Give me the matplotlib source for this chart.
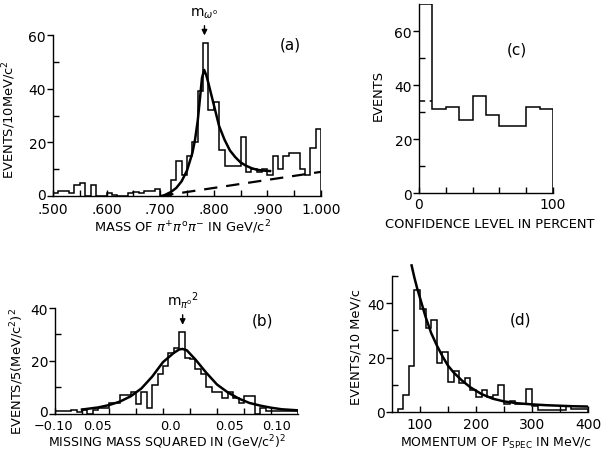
import numpy as np
import matplotlib
matplotlib.use("Agg")
import matplotlib.pyplot as plt
from matplotlib.ticker import FixedLocator
import matplotlib.transforms as mtransforms

plt.rcParams['font.family'] = ['DejaVu Sans']
plt.rcParams['mathtext.fontset'] = 'dejavusans'

# ---------------- data ----------------
# (a) mass of pi+ pi0 pi-, 10 MeV bins from 0.500 to 1.000 GeV
a_edges_start, a_edges_stop, a_bin = 0.500, 1.000, 0.010
a_counts = [1, 2, 2, 1, 4, 5, 0, 4, 0, 0,
            1, 0.5, 0, 0, 1, 1.5, 1, 2, 2, 2.5,
            0, 0, 6, 13, 8, 15, 20, 39, 57, 32,
            35, 17, 11, 11, 11, 22, 9, 10, 9, 10,
            8, 15, 10, 15, 16, 16, 10, 8, 18, 25]
a_fit_x = [0.705, 0.72, 0.73, 0.74, 0.75, 0.76, 0.765, 0.77, 0.775, 0.778,
           0.782, 0.786, 0.79, 0.795, 0.80, 0.81, 0.82, 0.83, 0.84, 0.85,
           0.86, 0.87, 0.88, 0.89, 0.905]
a_fit_y = [0, 1.5, 3, 5.5, 9.5, 16, 21, 28, 38, 44,
           47, 45, 42, 38, 34, 26, 21, 17, 14.5, 12.5,
           11.3, 10.4, 9.8, 9.5, 9.3]
a_bg_x = [0.700, 1.000]
a_bg_y = [0, 9]

# (c) confidence level, 10 % bins
c_edges = [0, 10, 20, 30, 40, 50, 60, 70, 80, 90, 100]
c_counts = [70, 31, 32, 27, 36, 29, 25, 25, 32, 31]
c_flat_x = [0, 10]
c_flat_y = [34, 34]

# (b) missing mass squared, bins of 0.005 (GeV/c^2)^2 from -0.10
b_start, b_bin = -0.100, 0.005
b_counts = [1, 1, 1, 1.5, 0.5, 1.5, 0, 1.5, 2, 2,
            4, 4, 7, 7, 8, 3.5, 8, 2, 11, 15,
            18, 23, 25, 31, 21, 20.5, 17, 15, 10, 8,
            8, 6, 8, 6, 4, 6.5, 6.5, 0, 2, 1,
            1, 1, 1, 1, 1]
b_fit_x = [-0.075, -0.06, -0.05, -0.04, -0.03, -0.02, -0.01, 0.0, 0.01, 0.015,
           0.018, 0.022, 0.03, 0.04, 0.05, 0.06, 0.07, 0.08, 0.09, 0.10,
           0.11, 0.125]
b_fit_y = [1.5, 2.3, 3.2, 4.5, 6.5, 9.5, 14, 19.5, 23, 24.3,
           24.5, 24, 20.5, 15.5, 11, 8, 5.7, 4, 3, 2.2,
           1.6, 1.2]

# (d) spectator momentum, 10 MeV/c bins from 60
d_start, d_bin = 60, 10
d_counts = [1, 6, 17, 45, 38, 31, 34, 18, 22, 11,
            15, 10.5, 12.5, 8, 5.3, 8, 5.5, 6, 10, 3,
            4, 3, 3, 8.5, 2.2, 0.5, 0.5, 0.5, 0.5, 0.5,
            2, 1, 1, 1]
d_fit_x = [85, 90, 95, 100, 110, 120, 130, 140, 150, 160,
           175, 190, 210, 230, 250, 275, 300, 325, 350, 375, 400]
d_fit_y = [54, 49.5, 45.5, 42, 35, 29, 24.5, 20.5, 17, 14.5,
           11.5, 9, 6.5, 4.8, 3.8, 3.1, 2.7, 2.4, 2.2, 2.0, 1.9]

# ---------------- figure ----------------
fig = plt.figure(figsize=(6.02, 4.52), dpi=100)
W, H = 602.0, 452.0

def rect(l, r, b, t):
    return [l / W, 1 - b / H, (r - l) / W, (b - t) / H]

FS = 10
LFS = 9.4
HLW = 1.1
CLW = 1.8

def style(ax, ytop, xpad, xfs=FS):
    for s in ('top', 'right'):
        ax.spines[s].set_visible(False)
    ax.spines['left'].set_bounds(0, ytop)
    ax.spines['left'].set_linewidth(1.0)
    ax.spines['bottom'].set_linewidth(1.0)
    ax.tick_params(axis='y', which='major', direction='out', length=4, width=1,
                   labelsize=FS, pad=1)
    ax.tick_params(axis='y', which='minor', direction='in', length=4, width=1)
    ax.tick_params(axis='x', which='both', direction='in', length=4, width=1,
                   labelsize=xfs, pad=xpad)

def shift_label(lab, dx_px, dy_px):
    lab.set_transform(lab.get_transform() +
                      mtransforms.ScaledTranslation(dx_px / 100.0, dy_px / 100.0,
                                                    fig.dpi_scale_trans))

# (a)
axa = fig.add_axes(rect(53, 321, 197, 3.8))
a_edges = np.round(np.arange(a_edges_start, a_edges_stop + a_bin / 2, a_bin), 3)
axa.stairs(a_counts, a_edges, color='black', lw=HLW, baseline=0)
axa.plot(a_fit_x, a_fit_y, color='black', lw=CLW)
axa.plot(a_bg_x, a_bg_y, color='black', lw=1.6, ls=(0, (6, 4)))
axa.set_xlim(0.5, 1.0)
axa.set_ylim(0, 72)
style(axa, 60, 4)
axa.set_yticks([0, 20, 40, 60])
axa.yaxis.set_minor_locator(FixedLocator([10, 30, 50]))
axa.set_xticks([0.5, 0.6, 0.7, 0.8, 0.9, 1.0],
               ['.500', '.600', '.700', '.800', '.900', '1.000'])
axa.xaxis.set_minor_locator(FixedLocator([0.55, 0.65, 0.75, 0.85, 0.95]))
shift_label(axa.get_yticklabels()[0], 0, 3)
axa.set_ylabel('EVENTS/10MeV/c$^2$', fontsize=LFS)
axa.yaxis.set_label_coords(-0.132, 0.40)
axa.set_xlabel(r'MASS OF $\pi^{+}\pi^{\mathrm{o}}\pi^{-}$ IN GeV/c$^2$', fontsize=LFS)
axa.xaxis.set_label_coords(0.485, -0.112)
axa.text(0.942, 56.6, '(a)', fontsize=11, ha='center', va='center')
axa.annotate('', xy=(0.7826, 58.8), xytext=(0.7826, 64.5),
             arrowprops=dict(arrowstyle='-|>', color='black', lw=1, mutation_scale=8))
axa.text(0.7826, 65.5, r'$\mathrm{m}_{\omega^{\mathrm{o}}}$', fontsize=FS,
         ha='center', va='bottom')

# (c)
axc = fig.add_axes(rect(419, 553, 194, 5))
axc.stairs(c_counts, c_edges, color='black', lw=HLW, baseline=0)
axc.plot(c_flat_x, c_flat_y, color='black', lw=1.1, ls=(0, (4, 3)))
axc.set_xlim(0, 100)
axc.set_ylim(0, 70)
style(axc, 70, 3)
axc.set_yticks([0, 20, 40, 60])
axc.yaxis.set_minor_locator(FixedLocator([10, 30, 50]))
axc.set_xticks([0, 100], ['0', '100'])
axc.xaxis.set_minor_locator(FixedLocator([20, 40, 60, 80]))
axc.set_ylabel('EVENTS', fontsize=LFS)
axc.yaxis.set_label_coords(-0.254, 0.524)
axc.set_xlabel('CONFIDENCE LEVEL IN PERCENT', fontsize=LFS)
axc.xaxis.set_label_coords(0.53, -0.125)
axc.text(73, 53.3, '(c)', fontsize=11, ha='center', va='center')

# (b)
axb = fig.add_axes(rect(55, 298, 414.5, 288))
b_edges = b_start + b_bin * np.arange(len(b_counts) + 1)
axb.stairs(b_counts, b_edges, color='black', lw=HLW, baseline=0)
axb.plot(b_fit_x, b_fit_y, color='black', lw=CLW)
axb.set_xlim(-0.10, 0.125)
axb.set_ylim(0, 48)
style(axb, 40, 4, xfs=9.3)
axb.set_yticks([0, 20, 40])
axb.yaxis.set_minor_locator(FixedLocator([10, 30]))
axb.set_xticks([-0.10, -0.05, 0.0, 0.05, 0.10],
               ['\u22120.10', '0.05', '0.0', '0.05', '0.10'])
axb.xaxis.set_minor_locator(FixedLocator([-0.075, -0.025, 0.025, 0.075]))
shifts = [-2, -12, 7, 13, 6]
for lab, dx in zip(axb.get_xticklabels(), shifts):
    shift_label(lab, dx, 0)
shift_label(axb.get_yticklabels()[0], 0, 3)
axb.set_ylabel('EVENTS/5(MeV/c$^2$)$^2$', fontsize=LFS)
axb.yaxis.set_label_coords(-0.118, 0.336)
axb.set_xlabel('MISSING MASS SQUARED IN (GeV/c$^2$)$^2$', fontsize=9.0)
axb.xaxis.set_label_coords(0.461, -0.148)
axb.text(0.0917, 35.4, '(b)', fontsize=11, ha='center', va='center')
axb.annotate('', xy=(0.0182, 32.6), xytext=(0.0182, 38.5),
             arrowprops=dict(arrowstyle='-|>', color='black', lw=1, mutation_scale=8))
axb.text(0.0182, 39.2, r'$\mathrm{m}_{\pi^{\mathrm{o}}}{}^{2}$', fontsize=FS,
         ha='center', va='bottom')

# (d)
axd = fig.add_axes(rect(392, 588, 412.7, 261))
d_edges = d_start + d_bin * np.arange(len(d_counts) + 1)
axd.stairs(d_counts, d_edges, color='black', lw=HLW, baseline=0)
axd.plot(d_fit_x, d_fit_y, color='black', lw=CLW)
axd.set_xlim(50, 400)
axd.set_ylim(0, 56)
style(axd, 50, 4)
axd.set_yticks([0, 20, 40])
axd.yaxis.set_minor_locator(FixedLocator([10, 30, 50]))
axd.set_xticks([100, 200, 300, 400])
axd.xaxis.set_minor_locator(FixedLocator([150, 250, 350]))
axd.set_ylabel('EVENTS/10 MeV/c', fontsize=LFS)
axd.yaxis.set_label_coords(-0.148, 0.433)
axd.set_xlabel(r'MOMENTUM OF P$_{\mathrm{SPEC}}$ IN MeV/c', fontsize=9.0)
axd.xaxis.set_label_coords(0.53, -0.155)
axd.text(278.6, 34.2, '(d)', fontsize=11, ha='center', va='center')

fig.savefig('out.png', dpi=100)
